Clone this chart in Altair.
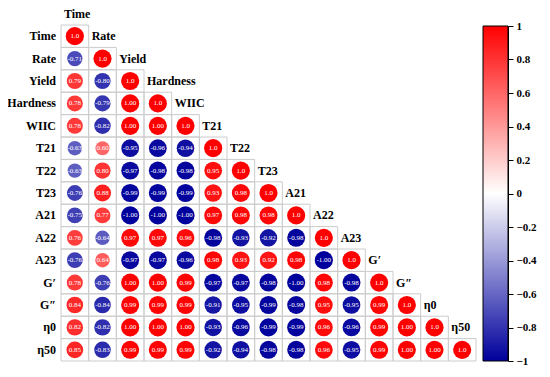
import altair as alt
import pandas as pd

names = ["Time", "Rate", "Yield", "Hardness", "WIIC", "T21", "T22", "T23",
         "A21", "A22", "A23", "G′", "G″", "η0", "η50"]

# lower-triangle correlation values, row by row
r_time = [1.0]
r_rate = [-0.71, 1.0]
r_yield = [0.79, -0.80, 1.0]
r_hard = [0.78, -0.79, 1.00, 1.0]
r_wiic = [0.78, -0.82, 1.00, 1.00, 1.0]
r_t21 = [-0.63, 0.60, -0.95, -0.96, -0.94, 1.0]
r_t22 = [-0.63, 0.80, -0.97, -0.98, -0.98, 0.95, 1.0]
r_t23 = [-0.76, 0.88, -0.99, -0.99, -0.99, 0.93, 0.98, 1.0]
r_a21 = [-0.75, 0.77, -1.00, -1.00, -1.00, 0.97, 0.98, 0.98, 1.0]
r_a22 = [0.76, -0.64, 0.97, 0.97, 0.96, -0.98, -0.93, -0.92, -0.98, 1.0]
r_a23 = [-0.76, 0.64, -0.97, -0.97, -0.96, 0.98, 0.93, 0.92, 0.98, -1.00, 1.0]
r_g1 = [0.78, -0.76, 1.00, 1.00, 0.99, -0.97, -0.97, -0.98, -1.00, 0.98, -0.98, 1.0]
r_g2 = [0.84, -0.84, 0.99, 0.99, 0.99, -0.91, -0.95, -0.99, -0.98, 0.95, -0.95, 0.99, 1.0]
r_eta0 = [0.82, -0.82, 1.00, 1.00, 1.00, -0.93, -0.96, -0.99, -0.99, 0.96, -0.96, 0.99, 1.00, 1.0]
r_eta50 = [0.85, -0.83, 0.99, 0.99, 0.99, -0.92, -0.94, -0.98, -0.98, 0.96, -0.95, 0.99, 1.00, 1.00, 1.0]

rows = [r_time, r_rate, r_yield, r_hard, r_wiic, r_t21, r_t22, r_t23,
        r_a21, r_a22, r_a23, r_g1, r_g2, r_eta0, r_eta50]

tick_values = [1, 0.8, 0.6, 0.4, 0.2, 0, -0.2, -0.4, -0.6, -0.8, -1]

records = []
for i, r in enumerate(rows):
    for j, v in enumerate(r):
        records.append(dict(
            row=i, col=j, xc=j + 0.5, yc=i + 0.5, x0=j, x1=j + 1, y0=i, y1=i + 1,
            value=v, mag=abs(v), label="1.0" if i == j else f"{v:.2f}"))
cells = pd.DataFrame(records)

labels = pd.DataFrame({
    "name": names,
    "idx": list(range(len(names))),
    "yc": [k + 0.5 for k in range(len(names))],
    "ylab": [k - 0.5 for k in range(len(names))],
})

N = len(names)
W, H = 415, 336
FONT = "Liberation Serif, Times New Roman, DejaVu Serif, serif"

xs = alt.Scale(domain=[0, N], nice=False, zero=False)
ys = alt.Scale(domain=[0, N], nice=False, zero=False, reverse=True)
cscale = alt.Scale(domain=[-1, 0, 1], range=["#00009c", "#ffffff", "#ff0000"], interpolate="rgb")

frame_axis = dict(labels=False, ticks=False, grid=False, domainColor="black")

grid = alt.Chart(cells).mark_rect(fillOpacity=0, stroke="#cccccc", strokeWidth=1).encode(
    x=alt.X("x0:Q", scale=xs, axis=alt.Axis(orient="bottom", domainWidth=2, **frame_axis), title=None),
    x2="x1:Q",
    y=alt.Y("y0:Q", scale=ys, axis=alt.Axis(orient="left", domainWidth=2.5, **frame_axis), title=None),
    y2="y1:Q",
)

circles = alt.Chart(cells).mark_circle(opacity=1).encode(
    x=alt.X("xc:Q", scale=xs, axis=None),
    y=alt.Y("yc:Q", scale=ys, axis=None),
    color=alt.Color("value:Q", scale=cscale, legend=None),
    size=alt.Size("mag:Q", scale=alt.Scale(domain=[0, 1], range=[0, 330]), legend=None),
)

vals = alt.Chart(cells).mark_text(color="white", fontSize=7, font=FONT).encode(
    x=alt.X("xc:Q", scale=xs, axis=None),
    y=alt.Y("yc:Q", scale=ys, axis=None),
    text="label:N",
)

row_labels = alt.Chart(labels).mark_text(
    align="right", baseline="middle", font=FONT, fontWeight="bold", fontSize=12, color="black"
).encode(
    x=alt.value(-5),
    y=alt.Y("yc:Q", scale=ys, axis=None),
    text="name:N",
)

col_labels = alt.Chart(labels).mark_text(
    align="left", baseline="middle", font=FONT, fontWeight="bold", fontSize=12, color="black", dx=3
).encode(
    x=alt.X("idx:Q", scale=xs, axis=None),
    y=alt.Y("ylab:Q", scale=ys, axis=None),
    text="name:N",
)

main = alt.layer(grid, circles, vals, row_labels, col_labels)

cb_data = pd.DataFrame({"lo": [-1], "hi": [1]})
grad = alt.Gradient(
    gradient="linear",
    stops=[alt.GradientStop(color="#ff0000", offset=0),
           alt.GradientStop(color="#ffffff", offset=0.5),
           alt.GradientStop(color="#00009c", offset=1)],
    x1=0, x2=0, y1=0, y2=1,
)
colorbar = alt.Chart(cb_data).mark_rect(fill=grad, stroke="black", strokeWidth=1).encode(
    x=alt.value(W + 7), x2=alt.value(W + 32),
    y=alt.Y("lo:Q", scale=alt.Scale(domain=[-1, 1], range=[H, 1], nice=False, zero=False),
            axis=alt.Axis(orient="right", offset=32, values=tick_values, format="~g",
                          tickSize=5, tickColor="black", domainColor="black", grid=False,
                          labelFont=FONT, labelFontWeight="bold", labelFontSize=11,
                          labelColor="black", labelPadding=3, labelFlush=False,
                          labelOverlap=False),
            title=None),
    y2="hi:Q",
)

chart = alt.layer(main, colorbar).resolve_scale(y="independent").properties(
    width=W, height=H,
    autosize=alt.AutoSizeParams(type="none"),
    padding={"left": 53, "top": 17, "right": 66, "bottom": 6},
).configure_view(stroke=None)

chart.save("out.html", embed_options={"renderer": "svg", "actions": False})
